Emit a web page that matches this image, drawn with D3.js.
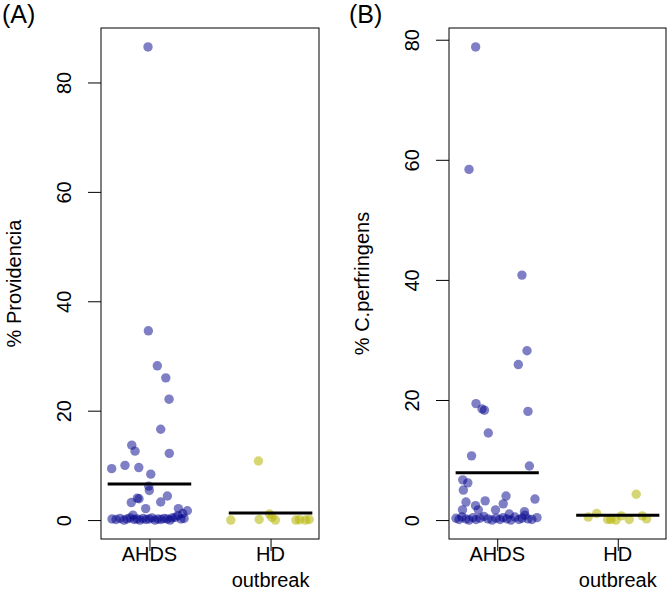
<!DOCTYPE html>
<html><head><meta charset="utf-8">
<script src="https://cdn.jsdelivr.net/npm/d3@7"></script>
<style>
body{margin:0;background:#fff}
svg{display:block}
text{font-family:"Liberation Sans",Arial,Helvetica,sans-serif;fill:#000}
</style></head><body>
<svg id="c" width="667" height="591"></svg>
<script>
// ---- data ----
const groups = ["AHDS", "HD\noutbreak"];
const yTicks = [0, 20, 40, 60, 80];

// Panel A: % Providencia  -- [jittered group position, value]
const provAHDS = [
  [0.988,86.5],[0.991,34.6],[1.065,28.2],[1.135,26.0],[1.162,22.1],[1.093,16.6],
  [0.854,13.7],[0.881,12.6],[1.164,12.2],[0.688,9.4],[0.798,10.0],[0.912,9.6],
  [1.011,8.4],[0.994,6.2],[0.999,5.4],[0.900,4.0],[0.914,3.9],[0.850,3.2],
  [0.969,2.1],[1.093,3.3],[1.148,4.4],[1.239,2.1],[1.313,1.7],[1.275,1.2],[0.864,0.9],
  [0.691,0.2],[0.724,0.1],[0.757,0.3],[0.790,0.0],[0.815,0.2],[0.840,0.4],
  [0.873,0.1],[0.898,0.2],[0.922,0.0],[0.947,0.3],[0.972,0.1],[0.997,0.2],
  [1.021,0.4],[1.046,0.0],[1.071,0.2],[1.096,0.1],[1.121,0.3],[1.145,0.2],
  [1.170,0.0],[1.187,0.4],[1.212,0.5],[1.236,0.8],[1.261,0.2],[1.286,0.3]
];
const provHD = [
  [1.900,10.8],[1.672,0.0],[1.906,0.1],[1.991,1.1],[2.011,0.5],
  [2.040,0.0],[2.209,0.0],[2.239,0.05],[2.288,0.0],[2.319,0.1]
];
const provMeans = [6.6, 1.3];

// Panel B: % C.perfringens
const cperfAHDS = [
  [0.821,78.8],[0.766,58.4],[1.205,40.8],[1.247,28.2],[1.175,25.9],[0.824,19.4],
  [0.874,18.5],[0.894,18.3],[1.255,18.1],[0.926,14.5],[0.787,10.7],[1.267,9.0],
  [0.714,6.7],[0.756,6.2],[0.719,5.0],[0.741,3.0],[0.900,3.2],[1.073,4.0],
  [1.050,2.7],[1.313,3.5],[0.820,2.4],[0.712,1.7],[0.843,1.7],[0.986,1.7],
  [1.100,1.0],[1.226,1.4],
  [0.658,0.3],[0.683,0.1],[0.708,0.5],[0.741,0.2],[0.766,0.0],[0.799,0.4],
  [0.824,0.1],[0.857,0.3],[0.890,0.6],[0.923,0.2],[0.957,0.0],[0.990,0.3],
  [1.023,0.1],[1.048,0.4],[1.081,0.2],[1.114,0.0],[1.147,0.5],[1.180,0.1],
  [1.205,0.3],[1.230,0.8],[1.255,0.2],[1.288,0.1],[1.330,0.4]
];
const cperfHD = [
  [2.153,4.3],[1.755,0.5],[1.825,1.1],[1.916,0.1],[1.943,0.1],
  [1.985,0.0],[2.029,0.7],[2.095,0.1],[2.203,0.7],[2.239,0.2]
];
const cperfMeans = [7.9, 0.8];

const panels = [
  {tag:"(A)", title:"% Providencia", ahds:provAHDS, hd:provHD, means:provMeans, left:101, width:218, tagX:2},
  {tag:"(B)", title:"% C.perfringens", ahds:cperfAHDS, hd:cperfHD, means:cperfMeans, left:449, width:217, tagX:349}
];

const svg = d3.select("#c");
const plotTop = 28, plotBottom = 539;
const colA = "rgba(0,0,139,0.5)";
const colH = "rgba(180,180,0,0.55)";

panels.forEach(p => {
  const all = p.ahds.concat(p.hd).map(d => d[1]);
  const [mn, mx] = d3.extent(all);
  const pad = (mx - mn) * 0.04;
  const y = d3.scaleLinear().domain([mn - pad, mx + pad]).range([plotBottom, plotTop]);
  const x = d3.scaleLinear().domain([0.6, 2.4]).range([p.left, p.left + p.width]);
  const g = svg.append("g");

  // y axis
  const ya = g.append("g").attr("transform", `translate(${p.left},0)`)
    .call(d3.axisLeft(y).tickValues(yTicks).tickSize(13).tickFormat(d3.format("d")));
  ya.select(".domain").remove();
  ya.selectAll("line").attr("stroke", "#000");
  ya.selectAll("text").attr("x", 0).attr("dy", null).attr("text-anchor", "middle")
    .attr("transform", "translate(-30,0) rotate(-90)")
    .style("font-size", "20px").attr("fill", "#000");

  // x axis ticks
  const xa = g.append("g").attr("transform", `translate(0,${plotBottom})`)
    .call(d3.axisBottom(x).tickValues([1, 2]).tickSize(12).tickFormat(""));
  xa.select(".domain").remove();
  xa.selectAll("line").attr("stroke", "#000");
  groups.forEach((lab, i) => {
    const t = g.append("text").attr("text-anchor", "middle").style("font-size", "20px");
    lab.split("\n").forEach((s, j) => {
      t.append("tspan").attr("x", x(i + 1)).attr("y", 561 + j * 26).text(s);
    });
  });

  // points
  g.append("g").selectAll("circle").data(p.ahds).join("circle")
    .attr("cx", d => x(d[0])).attr("cy", d => y(d[1])).attr("r", 4.7).attr("fill", colA);
  g.append("g").selectAll("circle").data(p.hd).join("circle")
    .attr("cx", d => x(d[0])).attr("cy", d => y(d[1])).attr("r", 4.7).attr("fill", colH);

  // mean lines
  g.append("g").selectAll("line").data(p.means).join("line")
    .attr("x1", (d, i) => x(i + 1 - 0.345)).attr("x2", (d, i) => x(i + 1 + 0.345))
    .attr("y1", d => y(d)).attr("y2", d => y(d))
    .attr("stroke", "#000").attr("stroke-width", 3);

  // box
  g.append("rect").attr("x", p.left).attr("y", plotTop).attr("width", p.width).attr("height", plotBottom - plotTop)
    .attr("fill", "none").attr("stroke", "#000").attr("stroke-width", 1);

  // y title
  g.append("text").attr("text-anchor", "middle").style("font-size", "20px")
    .attr("transform", `translate(${p.left - 80},${(plotTop + plotBottom) / 2}) rotate(-90)`)
    .text(p.title);

  // panel tag
  g.append("text").attr("x", p.tagX).attr("y", 23).style("font-size", "25px").text(p.tag);
});
</script>
</body></html>
